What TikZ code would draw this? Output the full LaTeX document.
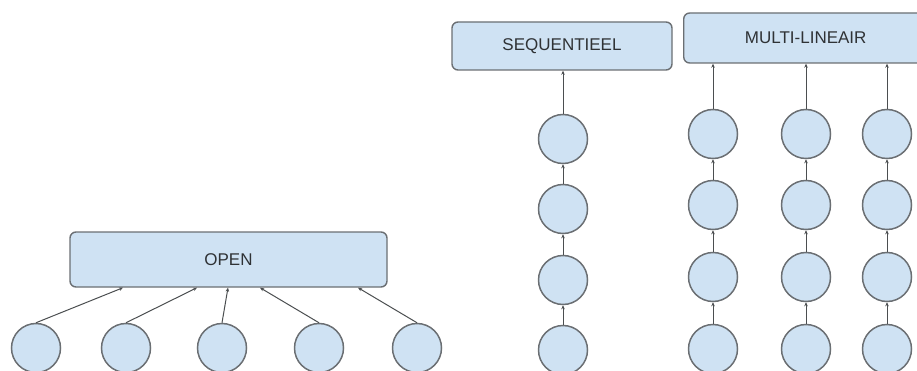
\documentclass[tikz,border=0pt]{standalone}
\usepackage{fontspec}
\setmainfont{Liberation Sans}
\usetikzlibrary{arrows.meta}
\definecolor{boxfill}{HTML}{CFE2F3}
\definecolor{edge}{HTML}{6B6F73}
\definecolor{txt}{HTML}{2F3235}
\tikzset{
  x=1pt, y=-1pt,
  unit/.style={circle, draw=edge, fill=boxfill, line width=1.5pt, minimum size=49pt, inner sep=0pt},
  label box/.style={draw=edge, fill=boxfill, line width=1.4pt, rounded corners=6pt, inner sep=0pt, text=txt,
     font=\fontsize{17}{19}\selectfont},
  link/.style={draw=edge!70!black, line width=1pt, -{Stealth[length=4pt,width=3.5pt]}}
}
\begin{document}
\begin{tikzpicture}
\useasboundingbox (0,0) rectangle (917,371);
\clip (0,0) rectangle (917,371);
% OPEN
\node[label box, minimum width=317pt, minimum height=55pt] (open) at (228.5,259.5) {OPEN};
\foreach \i/\x in {1/36,2/126,3/222,4/319,5/417}{
  \node[unit] (o\i) at (\x,348) {};
}
\draw[link] (o1.north) -- (open.south -| 123,0);
\draw[link] (o2.north) -- (open.south -| 197,0);
\draw[link] (o3.north) -- (open.south -| 228,0);
\draw[link] (o4.north) -- (open.south -| 260,0);
\draw[link] (o5.north) -- (open.south -| 358,0);
% SEQUENTIEEL
\node[label box, minimum width=220pt, minimum height=48pt] (seq) at (562,46) {SEQUENTIEEL};
\foreach \i/\y in {1/139,2/209,3/280,4/350}{
  \node[unit] (s\i) at (563,\y) {};
}
\draw[link] (s1.north) -- (seq.south -| s1.north);
\draw[link] (s2.north) -- (s1.south);
\draw[link] (s3.north) -- (s2.south);
\draw[link] (s4.north) -- (s3.south);
% MULTI-LINEAIR
\node[label box, minimum width=250pt, minimum height=50pt, anchor=west] (multi) at (683,38) {\hspace*{-6pt}MULTI-LINEAIR};
\foreach \c/\x in {a/713,b/806,c/887}{
  \foreach \i/\y in {1/134,2/205,3/277,4/349}{
    \node[unit] (m\c\i) at (\x,\y) {};
  }
  \draw[link] (m\c1.north) -- (multi.south -| m\c1.north);
  \draw[link] (m\c2.north) -- (m\c1.south);
  \draw[link] (m\c3.north) -- (m\c2.south);
  \draw[link] (m\c4.north) -- (m\c3.south);
}
\end{tikzpicture}
\end{document}
